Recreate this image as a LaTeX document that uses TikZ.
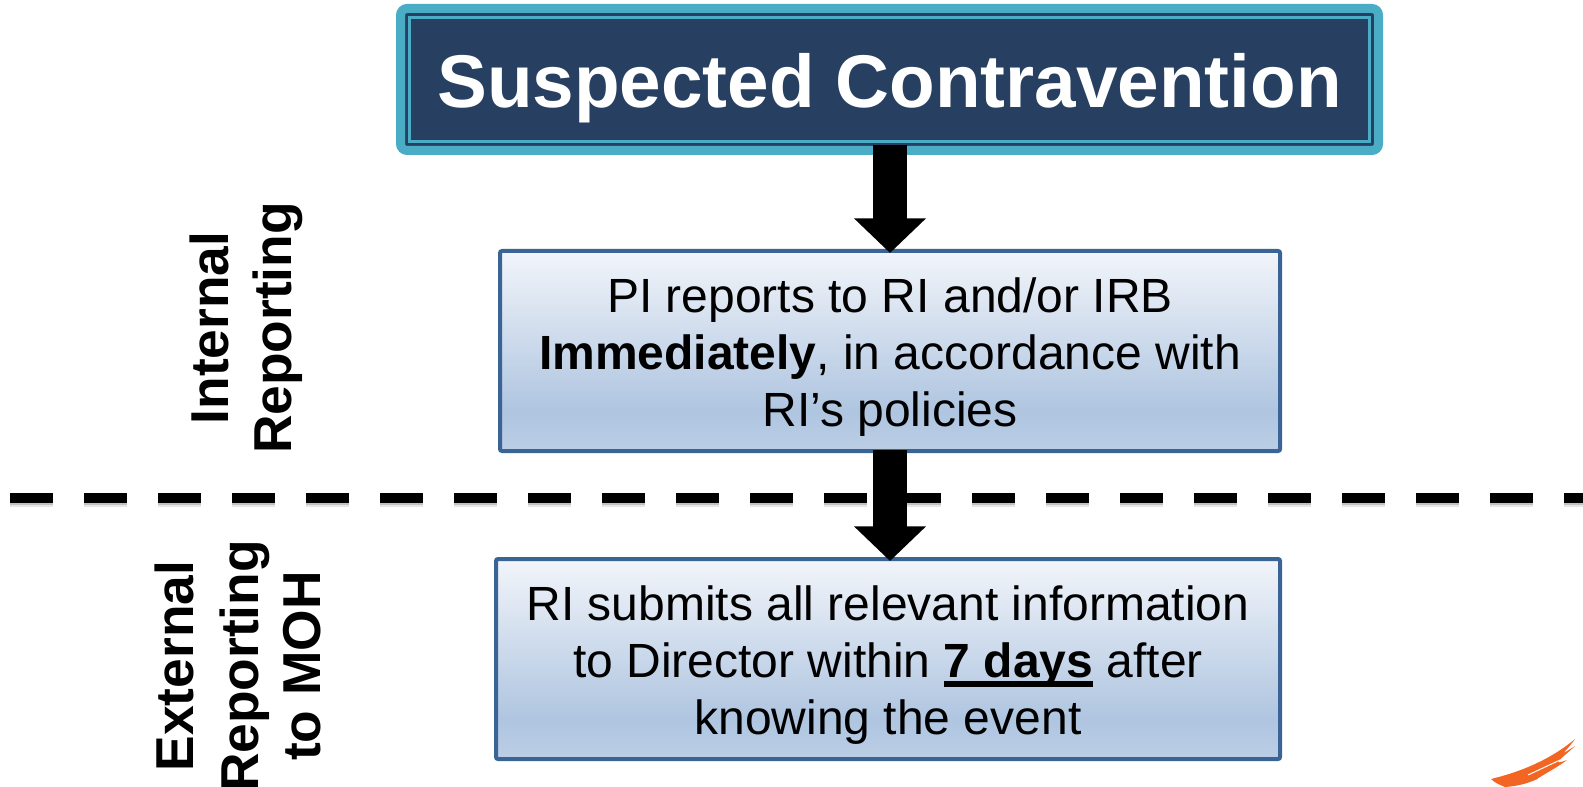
\documentclass[tikz,border=0pt]{standalone}
\usepackage{fontspec}
\setmainfont{Liberation Sans}
\usepackage{xcolor}
\usepackage{tikz}
\usetikzlibrary{arrows.meta, positioning}

\definecolor{navy}{HTML}{274062}
\definecolor{teal}{HTML}{4BACC6}
\definecolor{boxedge}{HTML}{3A6496}
\definecolor{boxtop}{HTML}{F2F5FA}
\definecolor{boxlow}{HTML}{AFC5E0}
\definecolor{brush}{HTML}{F26522}

\pgfdeclareverticalshading{boxshade}{100bp}{color(0bp)=(boxlow!85!white); color(25bp)=(boxlow!85!white); color(35bp)=(boxlow); color(75bp)=(boxtop); color(100bp)=(boxtop)}

\newcommand{\lowerby}[1]{\rule{0pt}{#1}}
\newcommand{\heavyunder}[1]{\setbox0\hbox{#1}\rlap{\raisebox{-7.5pt}{\rule{\wd0}{4.5pt}}}\box0}

\begin{document}
\begin{tikzpicture}[
    x=0.75pt, y=-0.75pt,
    titlebox/.style={rectangle, rounded corners=5pt, draw=teal, line width=6.75pt, fill=navy, text=white, minimum width=733.5pt, minimum height=106.5pt, inner sep=0pt, font=\fontsize{56}{62}\selectfont\bfseries},
    stepbox/.style={rectangle, rounded corners=1.5pt, draw=boxedge, line width=3pt, shading=boxshade, align=center, inner sep=0pt, font=\fontsize{36}{43}\selectfont},
    sidelabel/.style={rotate=90, align=center, inner sep=0pt, font=\fontsize{40}{47}\selectfont\bfseries},
    bigarrow/.style={-{Triangle[width=52.5pt,length=26pt]}, line width=25.5pt, shorten >=-3pt},
    split/.style={line width=8pt, dash pattern=on 32.25pt off 23.25pt}
]
\clip (0,0) rectangle (1583,787);

% Dashed line between the two reporting stages
\coordinate (splitleft) at (10,498);
\coordinate (splitright) at (1583,498);
\foreach \drop/\fade in {3pt/0.2, 1.5pt/0.35}
    \draw[split, draw=black!50, opacity=\fade] ([yshift=-\drop]splitleft) -- ([yshift=-\drop]splitright);
\draw[split] (splitleft) -- (splitright);

% Define the nodes for each step
\node[titlebox] (title) at (889.5,79.5) {\lowerby{53pt}Suspected Contravention};
\draw[teal, line width=2.25pt] ([shift={(13.5,13.5)}]title.north west) rectangle ([shift={(-13.5,-13.5)}]title.south east);
\node[stepbox, minimum width=585pt, minimum height=150pt] (pibox) at (890,351) {\lowerby{35pt}PI reports to RI and/or IRB\\ \textbf{Immediately}, in accordance with\\ RI's policies};
\node[stepbox, minimum width=588pt, minimum height=150pt] (ribox) at (888,659) {\lowerby{35pt}RI submits all relevant information\\ to Director within \textbf{\heavyunder{7 days}} after\\ knowing the event};

% Draw arrows between the steps
\draw[bigarrow, shorten <=7.5pt-15pt] (title.south -| pibox.north) -- (pibox.north);
\draw[bigarrow, shorten <=-2.25pt] (pibox.south) -- (ribox.north -| pibox.south);

% Side labels
\node[sidelabel] (internal) at (246,328) {Internal\\ Reporting};
\node[sidelabel] (external) at (238,666) {External\\[1.5pt] Reporting\\ to MOH};

% Brush stroke in the corner
\fill[brush] (1491,779) .. controls (1520,772) and (1550,760) .. (1575,739) .. controls (1566,752) and (1556,758) .. (1575,746) .. controls (1560,760) and (1550,766) .. (1567,760) .. controls (1550,772) and (1535,785) .. (1505,787) .. controls (1500,785) and (1495,783) .. (1491,779) -- cycle;
\draw[white, line width=0.75pt] (1528,775) -- (1560,760);
\draw[white, line width=0.75pt] (1538,779) -- (1563,764);
\end{tikzpicture}
\end{document}
